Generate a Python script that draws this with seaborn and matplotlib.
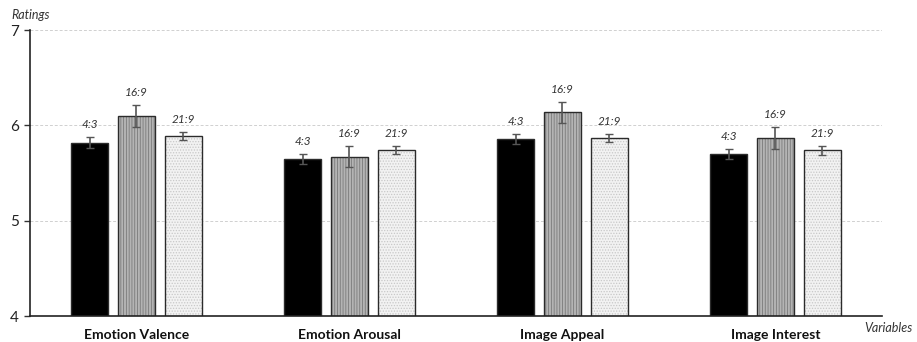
import pandas as pd
import matplotlib
matplotlib.use("Agg")
import matplotlib.pyplot as plt
import matplotlib.colors as mcolors
import seaborn as sns

# Data
variables = ["Emotion Valence", "Emotion Arousal", "Image Appeal", "Image Interest"]
ratios = ["4:3", "16:9", "21:9"]
means_43 = [5.82, 5.65, 5.86, 5.70]
means_169 = [6.10, 5.67, 6.14, 5.87]
means_219 = [5.89, 5.74, 5.87, 5.74]
err_43 = [0.055, 0.055, 0.055, 0.052]
err_169 = [0.115, 0.11, 0.11, 0.115]
err_219 = [0.045, 0.045, 0.044, 0.046]

df = pd.DataFrame({
    "Variable": variables * 3,
    "Ratio": [r for r in ratios for _ in variables],
    "Mean": means_43 + means_169 + means_219,
    "Err": err_43 + err_169 + err_219,
})

sns.set_style("white")
plt.rcParams["font.family"] = ["Lato", "DejaVu Sans"]
plt.rcParams["hatch.linewidth"] = 0.6

fig = plt.figure(figsize=(9.17, 3.42), dpi=100)
ax = fig.add_axes([0.0327, 0.076, 0.9291, 0.836])

palette = {"4:3": "#000000", "16:9": "#b4b4b4", "21:9": "#f2f2f2"}
sns.barplot(data=df, x="Variable", y="Mean", hue="Ratio", order=variables,
            hue_order=ratios, palette=palette, width=0.66, gap=0.21,
            edgecolor="#2b2b2b", linewidth=1.0, errorbar=None, legend=False, ax=ax)

hatches = {"4:3": "", "16:9": "||||||", "21:9": "......"}
hatch_cols = {"4:3": "#000000", "16:9": "#7a7a7a", "21:9": "#c8c8c8"}

for container, ratio in zip(ax.containers, ratios):
    sub = df[df["Ratio"] == ratio].set_index("Variable").loc[variables]
    xs = []
    for patch in container:
        patch.set_hatch(hatches[ratio])
        patch._hatch_color = mcolors.to_rgba(hatch_cols[ratio])
        xs.append(patch.get_x() + patch.get_width() / 2)
    ax.errorbar(xs, sub["Mean"], yerr=sub["Err"], fmt="none", ecolor="#555555",
                elinewidth=1.2, capsize=3, capthick=1.0, zorder=5)
    for x, m, e in zip(xs, sub["Mean"], sub["Err"]):
        ax.annotate(ratio, (x, m + e), xytext=(0, 5), textcoords="offset points",
                    ha="center", va="bottom", fontsize=8.5, style="italic",
                    color="#333333")

ax.set_ylim(4, 7)
ax.set_xlim(-0.5, 3.5)
ax.set_yticks([4, 5, 6, 7])
ax.yaxis.grid(True, linestyle=(0, (3, 2)), color="#d0d0d0", linewidth=0.7)
ax.set_axisbelow(True)
ax.tick_params(axis="y", left=True, length=4, width=1, color="#333333",
               labelsize=11, pad=4, labelcolor="#222222")
ax.tick_params(axis="x", bottom=False, labelsize=10, pad=6, labelcolor="#111111")
for lbl in ax.get_xticklabels():
    lbl.set_fontweight("bold")
ax.set_xlabel("")
ax.set_ylabel("")
for side in ["top", "right"]:
    ax.spines[side].set_visible(False)
for side in ["left", "bottom"]:
    ax.spines[side].set_color("#222222")
    ax.spines[side].set_linewidth(1.2)

fig.text(0.012, 0.955, "Ratings", fontsize=9, style="italic", color="#333333",
         va="center", ha="left")
fig.text(0.995, 0.04, "Variables", fontsize=9, style="italic", color="#333333",
         va="center", ha="right")

fig.savefig("out.png", dpi=100)
